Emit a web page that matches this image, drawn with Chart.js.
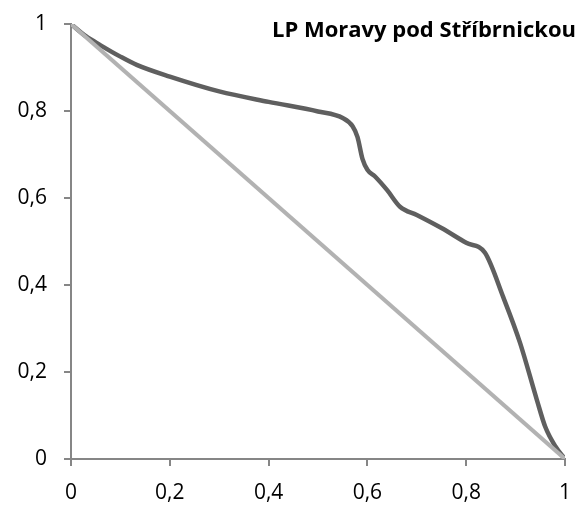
<!DOCTYPE html>
<html>
<head>
<meta charset="utf-8">
<script src="https://cdn.jsdelivr.net/npm/chart.js@4"></script>
<style>
  html, body { margin: 0; padding: 0; background: #fff; }
  #wrap { width: 579px; height: 508px; }
</style>
</head>
<body>
<div id="wrap"><canvas id="chart" width="579" height="508"></canvas></div>
<script>
// curve
const curveX = [0, 0.03, 0.06, 0.1, 0.133, 0.2, 0.3, 0.4, 0.5, 0.55, 0.57, 0.58, 0.59, 0.6, 0.615, 0.64, 0.666, 0.7, 0.75, 0.8, 0.838, 0.875, 0.909, 0.943, 0.96, 0.98, 1];
const curveY = [1, 0.972, 0.951, 0.925, 0.906, 0.879, 0.845, 0.821, 0.799, 0.784, 0.765, 0.74, 0.69, 0.665, 0.65, 0.618, 0.58, 0.561, 0.531, 0.497, 0.474, 0.372, 0.267, 0.136, 0.074, 0.03, 0];
const diagX = [0, 1];
const diagY = [1, 0];
const xTicks = [0, 0.2, 0.4, 0.6, 0.8, 1];
const yTicks = [0, 0.2, 0.4, 0.6, 0.8, 1];
const title = 'LP Moravy pod Stříbrnickou';

const axisColor = '#868686';
const fontFam = '"Open Sans", Lato, sans-serif';

function fmt(v) {
    return (Math.round(v * 10) / 10).toString().replace('.', ',');
}

// title sits inside the plot, top right
const titlePlugin = {
    id: 'cornerTitle',
    afterDraw(chart) {
        const ctx = chart.ctx;
        ctx.save();
        let size = 20;
        ctx.font = 'bold ' + size + 'px ' + fontFam;
        const w = ctx.measureText(title).width;
        size = size * 304 / w; // fit to ~304px like the original
        ctx.font = 'bold ' + size.toFixed(1) + 'px ' + fontFam;
        ctx.fillStyle = '#000';
        ctx.textAlign = 'right';
        ctx.textBaseline = 'alphabetic';
        ctx.fillText(title, 576, 37);
        ctx.restore();
    }
};

const ctx = document.getElementById('chart').getContext('2d');
new Chart(ctx, {
    type: 'line',
    data: {
        datasets: [
            {
                data: diagX.map((x, i) => ({ x: x, y: diagY[i] })),
                borderColor: '#b2b2b2',
                borderWidth: 4,
                pointRadius: 0,
                fill: false
            },
            {
                data: curveX.map((x, i) => ({ x: x, y: curveY[i] })),
                borderColor: '#5f5f5f',
                borderWidth: 4.5,
                pointRadius: 0,
                fill: false,
                cubicInterpolationMode: 'monotone'
            }
        ]
    },
    options: {
        responsive: false,
        animation: false,
        layout: { padding: { top: 24, right: 14, left: 0, bottom: 0 } },
        plugins: { legend: { display: false }, tooltip: { enabled: false } },
        scales: {
            x: {
                type: 'linear',
                min: 0,
                max: 1,
                afterBuildTicks: s => { s.ticks = xTicks.map(v => ({ value: v })); },
                afterFit: s => { s.height = 49; s.paddingLeft = 0; s.paddingRight = 0; },
                border: { color: axisColor, width: 2 },
                grid: { drawOnChartArea: false, drawTicks: true, tickLength: 7, color: axisColor, lineWidth: 2 },
                ticks: { color: '#000', padding: 14, maxRotation: 0, font: { family: fontFam, size: 21 }, callback: fmt }
            },
            y: {
                min: 0,
                max: 1,
                afterBuildTicks: s => { s.ticks = yTicks.map(v => ({ value: v })); },
                afterFit: s => { s.width = 71; s.paddingTop = 0; s.paddingBottom = 0; },
                border: { color: axisColor, width: 2 },
                grid: { drawOnChartArea: false, drawTicks: true, tickLength: 7, color: axisColor, lineWidth: 2 },
                ticks: { color: '#000', padding: 17, font: { family: fontFam, size: 21 }, callback: fmt }
            }
        }
    },
    plugins: [titlePlugin]
});
</script>
</body>
</html>
